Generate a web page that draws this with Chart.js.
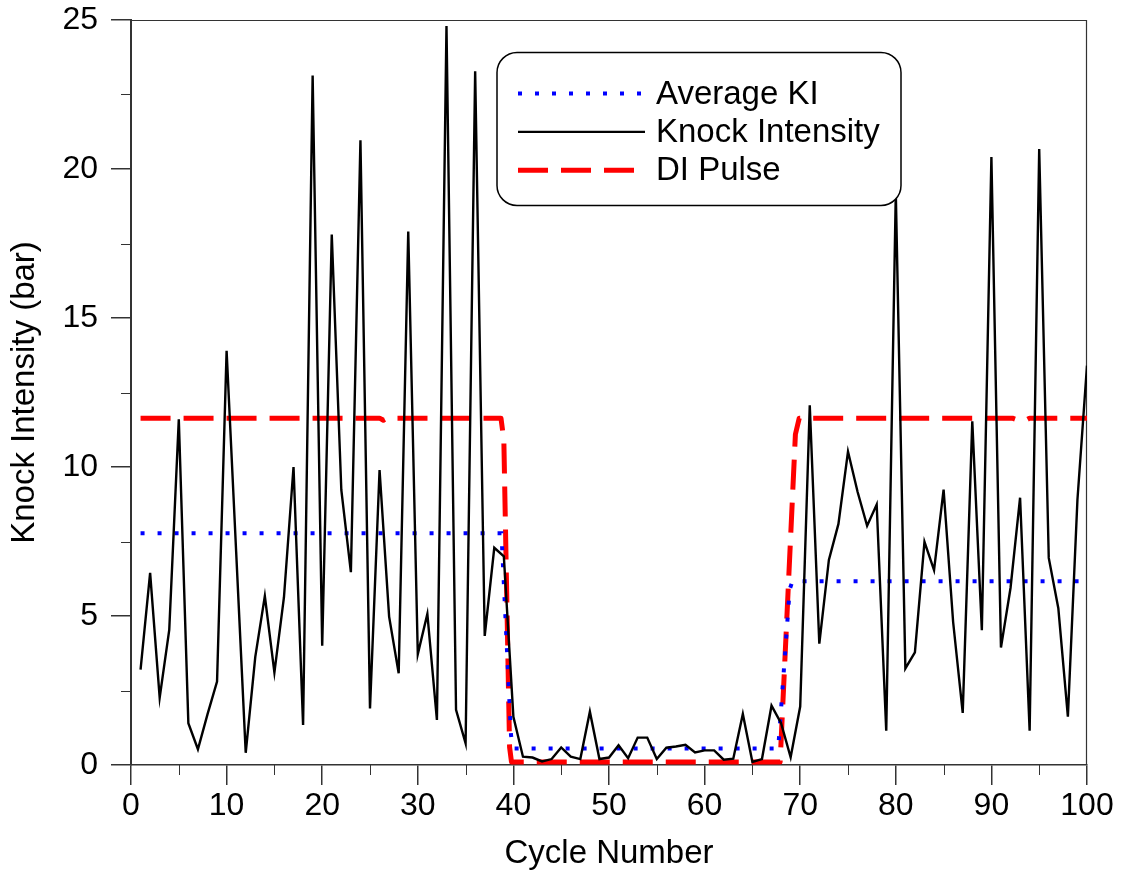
<!DOCTYPE html>
<html>
<head>
<meta charset="utf-8">
<title>Knock Intensity vs Cycle Number</title>
<script src="https://cdn.jsdelivr.net/npm/chart.js@4.4.1/dist/chart.umd.min.js"></script>
<style>
  html, body { margin: 0; padding: 0; background: #fff; }
  #wrap { width: 1122px; height: 874px; }
</style>
</head>
<body>
<div id="wrap"><canvas id="chart" width="1122" height="874"></canvas></div>
<script>
// ---- data ----
const cycles = Array.from({ length: 100 }, (_, i) => i + 1);

const knockIntensity = [
  3.2, 6.45, 2.26, 4.53, 11.6, 1.4, 0.53, 1.7, 2.8, 13.9,
  7.15, 0.41, 3.63, 5.67, 3.11, 5.63, 10.0, 1.34, 23.14, 4.0,
  17.8, 9.23, 6.47, 20.96, 1.9, 9.9, 4.98, 3.08, 17.9, 3.72,
  5.07, 1.51, 24.8, 1.85, 0.73, 23.28, 4.33, 7.29, 7.0, 1.62,
  0.28, 0.25, 0.12, 0.2, 0.59, 0.28, 0.2, 1.79, 0.2, 0.25,
  0.66, 0.23, 0.92, 0.92, 0.2, 0.58, 0.62, 0.68, 0.42, 0.49,
  0.49, 0.18, 0.21, 1.71, 0.1, 0.2, 1.99, 1.4, 0.26, 1.96,
  12.07, 4.07, 6.88, 8.09, 10.52, 9.17, 8.03, 8.74, 1.15, 19.2,
  3.24, 3.78, 7.49, 6.54, 9.24, 4.79, 1.75, 11.53, 4.52, 20.4,
  3.94, 5.94, 8.97, 1.15, 20.67, 6.95, 5.26, 1.62, 8.9, 13.4
];

// average knock intensity for each injection phase
const avgKiX = [1, 38.75, 39.75, 40, 67.7, 68.9, 69.2, 100];
const avgKiY = [7.78, 7.78, 1.0, 0.55, 0.55, 5.9, 6.17, 6.17];

// direct-injection pulse signal
const diPulseX = [1, 26.0, 26.4, 26.8, 38.7, 39.0, 39.6, 39.8, 67.9, 69.5, 69.9, 92.2, 92.8, 93.6, 94.0, 100];
const diPulseY = [11.64, 11.64, 11.57, 11.64, 11.64, 10.9, 0.6, 0.1, 0.1, 11.1, 11.64, 11.64, 11.57, 11.57, 11.64, 11.64];

// axis ticks
const xMajorTicks = [0, 10, 20, 30, 40, 50, 60, 70, 80, 90, 100];
const xMinorTicks = [5, 15, 25, 35, 45, 55, 65, 75, 85, 95];
const yMajorTicks = [0, 5, 10, 15, 20, 25];
const yMinorTicks = [2.5, 7.5, 12.5, 17.5, 22.5];

const legendOrder = ['Average KI', 'Knock Intensity', 'DI Pulse'];

// ---- drawing ----
const FONT = "'Liberation Sans', Arial, Helvetica, sans-serif";
const AXIS_COLOR = '#333';

const toPoints = (xs, ys) => xs.map((x, i) => ({ x, y: ys[i] }));

// minor ticks, box frame and the framed legend
const decorations = {
  id: 'decorations',
  beforeDatasetsDraw(chart) {
    const { ctx, chartArea: a, scales: { x, y } } = chart;
    ctx.save();
    ctx.strokeStyle = AXIS_COLOR;
    ctx.lineWidth = 1;
    ctx.beginPath();
    xMinorTicks.forEach(v => {
      const px = Math.round(x.getPixelForValue(v)) + 0.5;
      ctx.moveTo(px, a.bottom);
      ctx.lineTo(px, a.bottom + 10);
    });
    yMinorTicks.forEach(v => {
      const py = Math.round(y.getPixelForValue(v)) + 0.5;
      ctx.moveTo(a.left, py);
      ctx.lineTo(a.left - 10, py);
    });
    ctx.stroke();
    // top and right edges of the plot frame
    ctx.lineWidth = 1.2;
    ctx.beginPath();
    ctx.moveTo(a.left, a.top + 0.5);
    ctx.lineTo(a.right, a.top + 0.5);
    ctx.moveTo(a.right - 0.5, a.top);
    ctx.lineTo(a.right - 0.5, a.bottom);
    ctx.stroke();
    ctx.restore();
  },
  afterDatasetsDraw(chart, args, opts) {
    const { ctx } = chart;
    const { x, y, w, h, r } = opts.box;
    ctx.save();
    ctx.beginPath();
    ctx.roundRect(x, y, w, h, r);
    ctx.fillStyle = '#fff';
    ctx.fill();
    ctx.lineWidth = 1.5;
    ctx.strokeStyle = '#000';
    ctx.stroke();

    ctx.font = opts.fontSize + 'px ' + FONT;
    ctx.textAlign = 'left';
    ctx.textBaseline = 'alphabetic';
    legendOrder.forEach((label, i) => {
      const ds = chart.data.datasets.find(d => d.label === label);
      const base = opts.firstBaseline + i * opts.rowGap;
      const ly = base - 10;
      ctx.save();
      ctx.strokeStyle = ds.borderColor;
      ctx.lineWidth = ds.borderWidth;
      ctx.lineCap = 'butt';
      ctx.setLineDash(ds.borderDash || []);
      ctx.beginPath();
      ctx.moveTo(opts.sampleX0, ly);
      ctx.lineTo(opts.sampleX1, ly);
      ctx.stroke();
      ctx.restore();
      ctx.fillStyle = '#000';
      ctx.fillText(label, opts.textX, base);
    });
    ctx.restore();
  }
};

new Chart(document.getElementById('chart'), {
  type: 'line',
  data: {
    datasets: [
      {
        label: 'Knock Intensity',
        data: toPoints(cycles, knockIntensity),
        borderColor: '#000000',
        borderWidth: 2.4,
        borderJoinStyle: 'miter',
        pointRadius: 0,
        tension: 0,
        fill: false
      },
      {
        label: 'Average KI',
        data: toPoints(avgKiX, avgKiY),
        borderColor: '#0000ff',
        borderWidth: 4,
        borderDash: [4, 13],
        borderCapStyle: 'butt',
        pointRadius: 0,
        tension: 0,
        fill: false
      },
      {
        label: 'DI Pulse',
        data: toPoints(diPulseX, diPulseY),
        borderColor: '#ff0000',
        borderWidth: 5,
        borderDash: [30, 13],
        borderCapStyle: 'butt',
        borderJoinStyle: 'round',
        pointRadius: 0,
        tension: 0,
        fill: false
      }
    ]
  },
  options: {
    responsive: false,
    animation: false,
    events: [],
    layout: { padding: { left: 0, top: 20, right: 35, bottom: 0 } },
    plugins: {
      legend: { display: false },
      tooltip: { enabled: false },
      decorations: {
        box: { x: 497, y: 52.5, w: 404, h: 153, r: 20 },
        fontSize: 33,
        firstBaseline: 103.5,
        rowGap: 38.4,
        sampleX0: 518,
        sampleX1: 645,
        textX: 656
      }
    },
    scales: {
      x: {
        type: 'linear',
        min: 0,
        max: 100,
        afterBuildTicks: s => { s.ticks = xMajorTicks.map(v => ({ value: v })); },
        afterFit: s => { s.height = 109; s.paddingLeft = 0; s.paddingRight = 0; },
        ticks: {
          font: { family: FONT, size: 32 },
          color: '#000',
          padding: 2,
          maxRotation: 0,
          autoSkip: false
        },
        grid: { drawOnChartArea: false, drawTicks: true, tickLength: 20, color: AXIS_COLOR, lineWidth: 1.5 },
        border: { display: true, color: AXIS_COLOR, width: 1.5 },
        title: {
          display: true,
          text: 'Cycle Number',
          font: { family: FONT, size: 33 },
          color: '#000',
          padding: { top: 0, bottom: 0 }
        }
      },
      y: {
        type: 'linear',
        min: 0,
        max: 25,
        afterBuildTicks: s => { s.ticks = yMajorTicks.map(v => ({ value: v })); },
        afterFit: s => { s.width = 131; s.paddingTop = 0; s.paddingBottom = 0; },
        ticks: {
          font: { family: FONT, size: 32 },
          color: '#000',
          padding: 13,
          autoSkip: false
        },
        grid: { drawOnChartArea: false, drawTicks: true, tickLength: 20, color: AXIS_COLOR, lineWidth: 1.5 },
        border: { display: true, color: AXIS_COLOR, width: 2 },
        title: {
          display: true,
          text: 'Knock Intensity (bar)',
          font: { family: FONT, size: 33 },
          color: '#000',
          padding: { top: 5, bottom: 0 }
        }
      }
    }
  },
  plugins: [decorations]
});
</script>
</body>
</html>
